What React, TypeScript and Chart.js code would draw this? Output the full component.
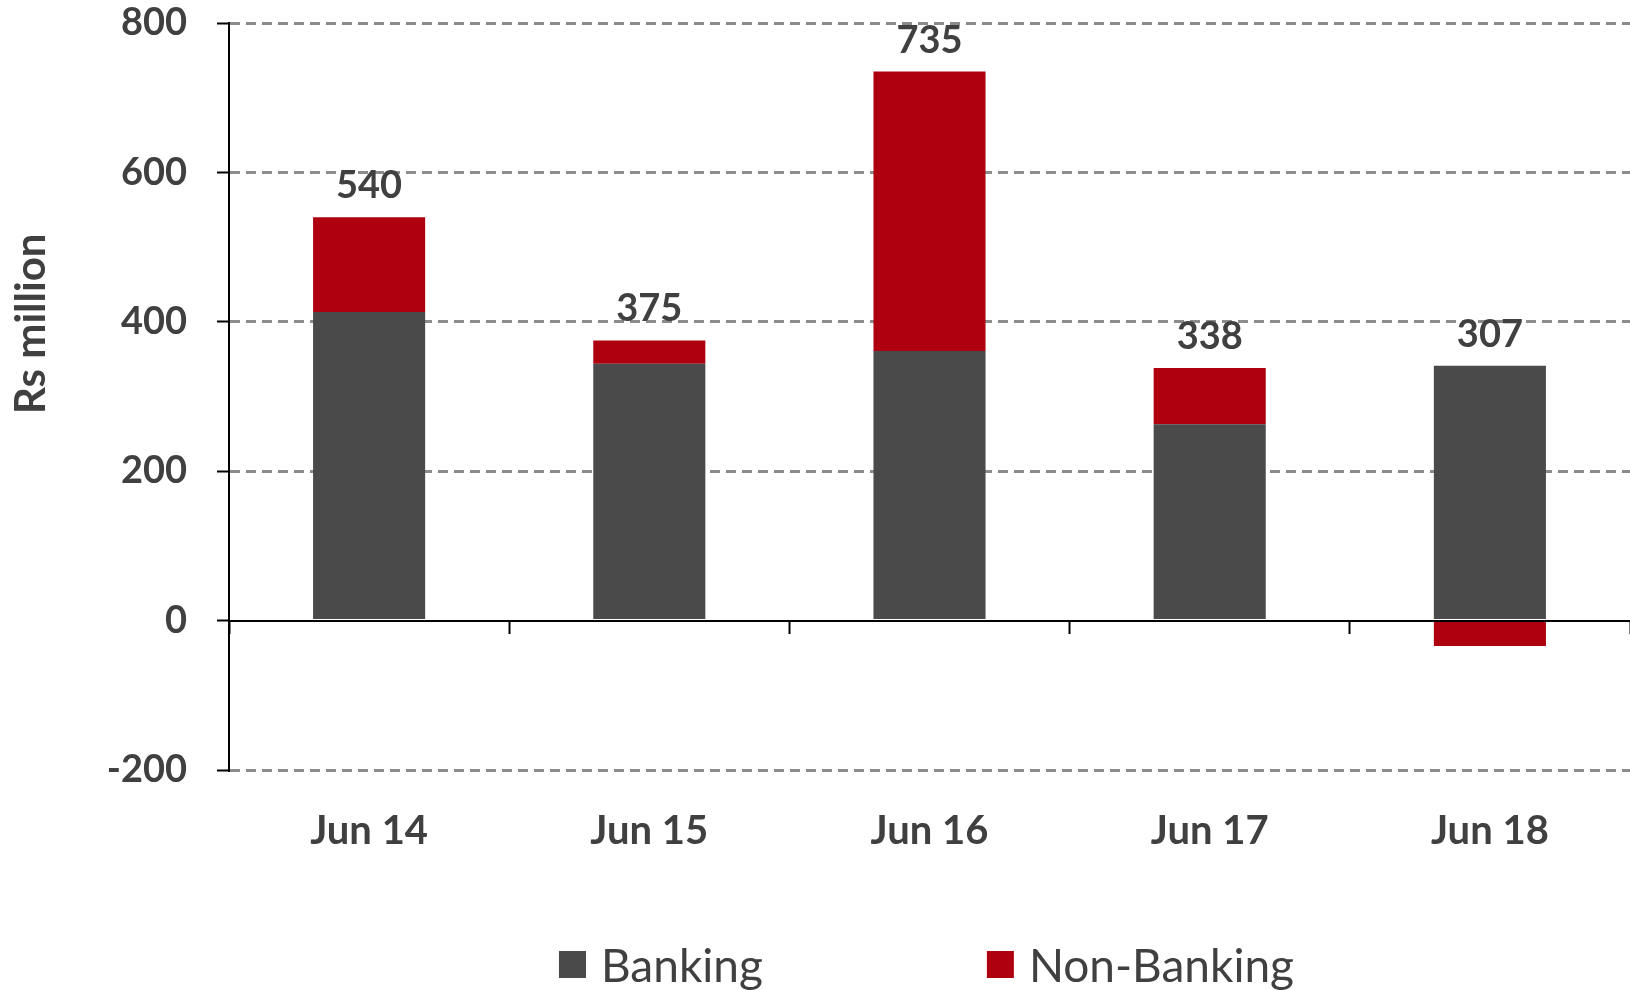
import React, { useEffect, useRef } from "react";
import { Chart, registerables } from "chart.js";

Chart.register(...registerables);

const categories = ["Jun 14", "Jun 15", "Jun 16", "Jun 17", "Jun 18"];
const banking = [413, 344, 361, 263, 341];
const nonBanking = [127, 31, 374, 75, -34];
const totals = [540, 375, 735, 338, 307];
const yMin = -200;
const yMax = 800;
const yStep = 200;
const yTitle = "Rs million";

const TEXT = "#404040";
const FONT = "Lato, 'Open Sans', sans-serif";

const bgPlugin = {
  id: "bg",
  beforeDraw(chart: any) {
    const { ctx, width, height } = chart;
    ctx.save();
    ctx.fillStyle = "#ffffff";
    ctx.fillRect(0, 0, width, height);
    ctx.restore();
  },
};

const totalsPlugin = {
  id: "totals",
  afterDatasetsDraw(chart: any) {
    const { ctx } = chart;
    ctx.save();
    ctx.font = `bold 38px ${FONT}`;
    ctx.fillStyle = TEXT;
    ctx.textAlign = "center";
    ctx.textBaseline = "alphabetic";
    totals.forEach((t, i) => {
      let top = Infinity;
      let x = 0;
      chart.data.datasets.forEach((ds: any, di: number) => {
        const el = chart.getDatasetMeta(di).data[i];
        if (!el) return;
        x = el.x;
        if (ds.data[i] > 0) top = Math.min(top, el.y);
      });
      ctx.fillText(String(t), x, top - 19);
    });
    ctx.restore();
  },
};

const yTitlePlugin = {
  id: "ytitle",
  afterDraw(chart: any) {
    const { ctx, scales } = chart;
    const y = scales.y;
    const cy = (y.getPixelForValue(yMax) + y.getPixelForValue(0)) / 2 + 2;
    ctx.save();
    ctx.translate(31, cy);
    ctx.rotate(-Math.PI / 2);
    ctx.font = `bold 42px ${FONT}`;
    ctx.fillStyle = TEXT;
    ctx.textAlign = "center";
    ctx.textBaseline = "middle";
    ctx.fillText(yTitle, 0, 0);
    ctx.restore();
  },
};

const legendPlugin = {
  id: "customLegend",
  afterDraw(chart: any) {
    const { ctx, chartArea } = chart;
    const box = 27;
    const gapText = 15;
    const gapItem = 224;
    ctx.save();
    ctx.font = `normal 46px ${FONT}`;
    const items = chart.data.datasets.map((ds: any) => ({
      label: ds.label,
      color: ds.backgroundColor,
      w: ctx.measureText(ds.label).width,
    }));
    const total =
      items.reduce((s: number, it: any) => s + box + gapText + it.w, 0) +
      gapItem * (items.length - 1);
    let x = (chartArea.left + chartArea.right) / 2 - total / 2 - 3;
    const baseline = 982;
    items.forEach((it: any) => {
      ctx.fillStyle = it.color;
      ctx.fillRect(x, 951, box, box);
      ctx.fillStyle = TEXT;
      ctx.textAlign = "left";
      ctx.textBaseline = "alphabetic";
      ctx.fillText(it.label, x + box + gapText, baseline);
      x += box + gapText + it.w + gapItem;
    });
    ctx.restore();
  },
};

export default function App() {
  const ref = useRef<HTMLCanvasElement | null>(null);
  useEffect(() => {
    if (!ref.current) return;
    const chart = new Chart(ref.current, {
      type: "bar",
      data: {
        labels: categories,
        datasets: [
          {
            label: "Banking",
            data: banking,
            backgroundColor: "#4a4a4a",
            borderWidth: 0,
          },
          {
            label: "Non-Banking",
            data: nonBanking,
            backgroundColor: "#ae000e",
            borderWidth: 0,
          },
        ],
      },
      options: {
        responsive: false,
        animation: false,
        maintainAspectRatio: false,
        layout: { padding: { top: 0, left: 0, right: 0, bottom: 0 } },
        datasets: {
          bar: { barPercentage: 0.4, categoryPercentage: 1 },
        },
        plugins: {
          legend: { display: false },
          tooltip: { enabled: false },
        },
        scales: {
          x: {
            type: "category",
            stacked: true,
            offset: true,
            position: "bottom",
            grid: { display: false },
            border: { display: false },
            ticks: {
              color: TEXT,
              font: { family: FONT, size: 40, weight: "bold" },
              padding: 29,
              maxRotation: 0,
            },
            afterFit(scale: any) {
              scale.height = 220;
            },
          },
          x0: {
            type: "category",
            axis: "x",
            position: { y: 0 },
            offset: true,
            grid: {
              display: true,
              offset: true,
              drawOnChartArea: false,
              drawTicks: true,
              tickLength: 12,
              tickColor: "#000",
              tickWidth: 2,
            },
            border: { display: true, color: "#000", width: 2 },
            ticks: { display: false },
            afterFit(scale: any) {
              scale.paddingTop = 0;
              scale.paddingBottom = 0;
            },
          },
          y: {
            type: "linear",
            stacked: true,
            min: yMin,
            max: yMax,
            position: "left",
            ticks: {
              stepSize: yStep,
              color: TEXT,
              font: { family: FONT, size: 38, weight: "bold" },
              padding: 30,
            },
            grid: {
              color: (c: any) => (c.tick && c.tick.value === 0 ? "rgba(0,0,0,0)" : "#8c8c8c"),
              lineWidth: 3,
              tickLength: 12,
              tickColor: "#000",
              tickWidth: 2,
            },
            border: { display: true, color: "#000", width: 2, dash: [10, 6] },
            afterFit(scale: any) {
              scale.width = 229;
              scale.paddingTop = 23;
              scale.paddingBottom = 0;
            },
          },
        },
      },
      plugins: [bgPlugin, totalsPlugin, yTitlePlugin, legendPlugin],
    } as any);
    return () => chart.destroy();
  }, []);
  return (
    <div style={{ position: "fixed", left: 0, top: 0, width: 1630, height: 990, background: "#fff" }}>
      <canvas ref={ref} width={1630} height={990} style={{ display: "block" }} />
    </div>
  );
}
